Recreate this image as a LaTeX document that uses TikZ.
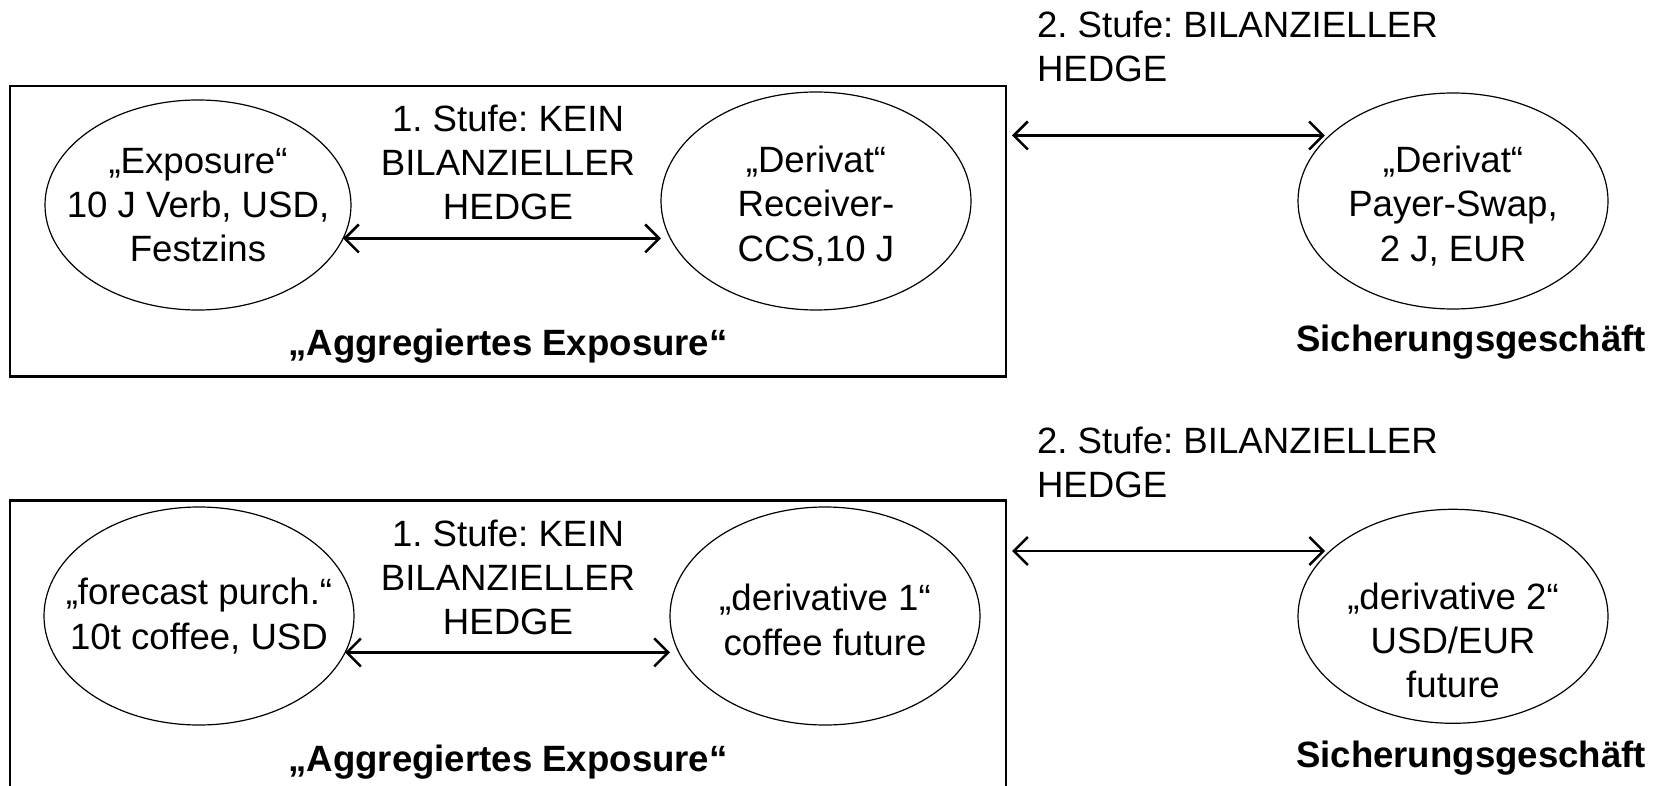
\documentclass[tikz,border=0pt]{standalone}
\usepackage{fontspec}
\setmainfont{Liberation Sans}
\usetikzlibrary{arrows.meta,shapes.geometric}
\frenchspacing
\begin{document}
\begin{tikzpicture}[x=1pt,y=-1pt,
  every node/.style={inner sep=0pt, outer sep=0pt, font=\fontsize{36.6}{44.2}\selectfont\frenchspacing},
  bubble/.style={ellipse, draw, line width=1.2pt},
  frame/.style={draw, line width=2.5pt, rectangle, minimum width=996pt, minimum height=290.7pt},
  txt/.style={align=center},
  bold/.style={font=\fontsize{36.6}{44.2}\selectfont\bfseries\frenchspacing},
  arr/.style={{Straight Barb[length=14pt,width=28pt]}-{Straight Barb[length=14pt,width=28pt]}, line width=2.5pt},
]
\useasboundingbox (0,0) rectangle (1669,786);
\clip (0,0) rectangle (1669,786);

% ---------- top ----------
\node[frame] (T1) at (508,231.35) {};
\node[bubble, minimum width=306pt, minimum height=210pt] (A) at (198,205) {};
\node[bubble, minimum width=310pt, minimum height=218pt] (B) at (816,201) {};
\node[bubble, minimum width=310pt, minimum height=216pt] (C) at (1453,201) {};
\node[txt] (At) at (A) {„Exposure“\\10 J Verb, USD,\\Festzins};
\node[txt, yshift=-5pt] (Bt) at (B) {„Derivat“\\Receiver-\\CCS,10 J};
\node[txt, yshift=-5pt] (Ct) at (C) {„Derivat“\\Payer-Swap,\\2 J, EUR};
\node[txt, anchor=north] (S1a) at (508,105) {1. Stufe: KEIN\\BILANZIELLER\\HEDGE};
\node[align=left, anchor=north west] (S2a) at (1037,10.7) {2. Stufe: BILANZIELLER\\HEDGE};
\node[bold, anchor=base] (AEa) at (508,355) {„Aggregiertes Exposure“};
\node[bold, anchor=base] (SGa) at (1471,351) {Sicherungsgeschäft};
\coordinate (T1e) at ([xshift=6pt]T1.east);
\draw[arr] (A.-13) -- (A.-13 -| B.west);
\draw[arr, shorten >=5pt] (T1e |- C.152) -- (C.152);

% ---------- bottom ----------
\node[frame] (T2) at (508,646) {};
\node[bubble, minimum width=310pt, minimum height=218pt] (D) at (199,616) {};
\node[bubble, minimum width=310pt, minimum height=218pt] (E) at (825,616) {};
\node[bubble, minimum width=310pt, minimum height=214pt] (F) at (1453,616.3) {};
\node[txt] (Dt) at (D) {„forecast purch.“\\10t coffee, USD};
\node[txt, yshift=-4pt] (Et) at (E) {„derivative 1“\\coffee future};
\node[txt, yshift=-24pt] (Ft) at (F) {„derivative 2“\\USD/EUR\\future};
\node[txt, anchor=north] (S1b) at (508,520) {1. Stufe: KEIN\\BILANZIELLER\\HEDGE};
\node[align=left, anchor=north west] (S2b) at (1037,426.7) {2. Stufe: BILANZIELLER\\HEDGE};
\node[bold, anchor=base] (AEb) at (508,771) {„Aggregiertes Exposure“};
\node[bold, anchor=base] (SGb) at (1471,767) {Sicherungsgeschäft};
\coordinate (T2e) at ([xshift=6pt]T2.east);
\draw[arr] (D.-14) -- (D.-14 -| E.west);
\draw[arr, shorten >=5pt] (T2e |- F.152) -- (F.152);
\end{tikzpicture}
\end{document}
